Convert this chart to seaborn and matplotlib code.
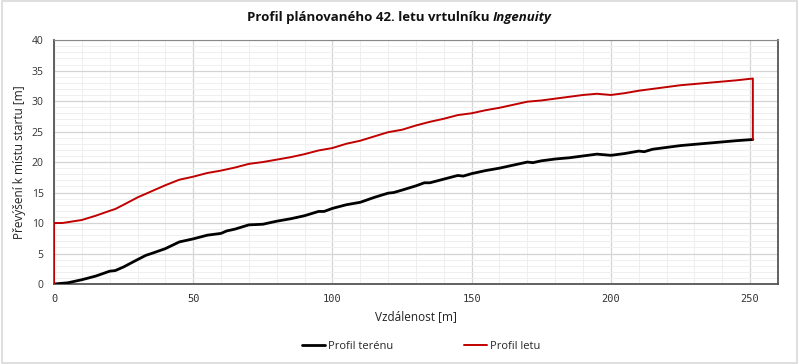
import numpy as np
import pandas as pd
import matplotlib
matplotlib.use("Agg")
import matplotlib.pyplot as plt
from matplotlib.ticker import MultipleLocator
from matplotlib.patches import Rectangle
import seaborn as sns

# terrain profile (distance [m], elevation relative to start [m])
terrain_x = [0, 5, 8, 10, 15, 20, 22, 25, 30, 33, 35, 40, 45, 47, 50, 55, 60, 62, 65,
             70, 75, 80, 85, 90, 95, 97, 100, 105, 110, 115, 120, 122, 125, 130, 133,
             135, 140, 145, 147, 150, 155, 160, 165, 170, 172, 175, 180, 185, 190,
             195, 200, 205, 210, 212, 215, 220, 225, 230, 235, 240, 245, 251]
terrain_y = [0.0, 0.2, 0.5, 0.7, 1.3, 2.1, 2.2, 2.8, 4.0, 4.7, 5.0, 5.8, 6.9, 7.1, 7.4,
             8.0, 8.3, 8.7, 9.0, 9.7, 9.8, 10.3, 10.7, 11.2, 11.9, 11.9, 12.4, 13.0,
             13.4, 14.2, 14.9, 15.0, 15.4, 16.1, 16.6, 16.6, 17.2, 17.8, 17.7, 18.1,
             18.6, 19.0, 19.5, 20.0, 19.9, 20.2, 20.5, 20.7, 21.0, 21.3, 21.1, 21.4,
             21.8, 21.7, 22.1, 22.4, 22.7, 22.9, 23.1, 23.3, 23.5, 23.7]

# planned flight profile (takeoff, cruise, landing)
flight_x = [0, 0, 3, 10, 15, 20, 22, 25, 30, 35, 40, 45, 50, 55, 60, 65, 70, 75, 80,
            85, 90, 95, 100, 105, 110, 115, 120, 125, 130, 135, 140, 145, 150, 155,
            160, 165, 170, 175, 180, 185, 190, 195, 200, 205, 210, 215, 220, 225,
            230, 235, 240, 245, 251, 251]
flight_y = [0.0, 10.0, 10.0, 10.5, 11.2, 12.0, 12.3, 13.0, 14.2, 15.2, 16.2, 17.1,
            17.6, 18.2, 18.6, 19.1, 19.7, 20.0, 20.4, 20.8, 21.3, 21.9, 22.3, 23.0,
            23.5, 24.2, 24.9, 25.3, 26.0, 26.6, 27.1, 27.7, 28.0, 28.5, 28.9, 29.4,
            29.9, 30.1, 30.4, 30.7, 31.0, 31.2, 31.0, 31.3, 31.7, 32.0, 32.3, 32.6,
            32.8, 33.0, 33.2, 33.4, 33.7, 23.7]

sns.set_style("white")
plt.rcParams["font.family"] = ["Open Sans", "DejaVu Sans"]

terrain = pd.DataFrame({"x": terrain_x, "y": terrain_y})
flight = pd.DataFrame({"x": flight_x, "y": flight_y})

fig = plt.figure(figsize=(7.99, 3.64), dpi=100)
ax = fig.add_axes([0.0676, 0.2198, 0.906, 0.670])

sns.lineplot(data=terrain, x="x", y="y", ax=ax, color="black", lw=2.0,
             sort=False, estimator=None, label="Profil terénu", zorder=3)
sns.lineplot(data=flight, x="x", y="y", ax=ax, color="#c00000", lw=1.4,
             sort=False, estimator=None, label="Profil letu", zorder=4)

ax.set_xlim(0, 260)
ax.set_ylim(0, 40)
ax.xaxis.set_major_locator(MultipleLocator(50))
ax.xaxis.set_minor_locator(MultipleLocator(10))
ax.yaxis.set_major_locator(MultipleLocator(5))
ax.yaxis.set_minor_locator(MultipleLocator(1))
ax.grid(which="major", color="#d4d4d4", lw=0.9)
ax.grid(which="minor", color="#efefef", lw=0.7)
ax.set_axisbelow(True)

for s in ax.spines.values():
    s.set_color("#555555")
    s.set_linewidth(1.3)
ax.spines["top"].set_color("#888888")
ax.spines["top"].set_linewidth(0.8)

ax.tick_params(which="major", direction="out", length=4, width=1, color="#444444",
               labelsize=7.5, labelcolor="#333333")
ax.tick_params(which="minor", direction="out", length=2.5, width=0.8, color="#444444")
for lbl in ax.get_xticklabels():
    lbl.set_family("DejaVu Sans Mono")
    lbl.set_fontsize(7.5)

ax.set_xlabel("Vzdálenost [m]", fontsize=8.5, color="#222222", labelpad=4)
ax.set_ylabel("Převýšení k místu startu [m]", fontsize=8.5, color="#222222", labelpad=4)

ax.get_legend().remove()
handles, labels = ax.get_legend_handles_labels()
fig.legend(handles, labels, loc="center", bbox_to_anchor=(0.527, 0.048), ncol=2,
           frameon=False, fontsize=8, handlelength=2.1, handletextpad=0.2,
           columnspacing=6.4)

# title with italic helicopter name
t1 = fig.text(0, 0.953, "Profil plánovaného 42. letu vrtulníku ", fontsize=9.5,
              fontweight="bold", ha="left", va="center", color="#111111")
t2 = fig.text(0, 0.953, "Ingenuity", fontsize=9.5, fontweight="bold",
              fontstyle="italic", ha="left", va="center", color="#111111")
fig.canvas.draw()
r = fig.canvas.get_renderer()
w1 = t1.get_window_extent(r).width / fig.bbox.width
w2 = t2.get_window_extent(r).width / fig.bbox.width
x0 = 0.5 - (w1 + w2) / 2
t1.set_x(x0)
t2.set_x(x0 + w1)

fig.patches.append(Rectangle((0.002, 0.003), 0.996, 0.994, transform=fig.transFigure,
                             fill=False, edgecolor="#d9d9d9", lw=1.2))

fig.savefig("out.png", dpi=100)
